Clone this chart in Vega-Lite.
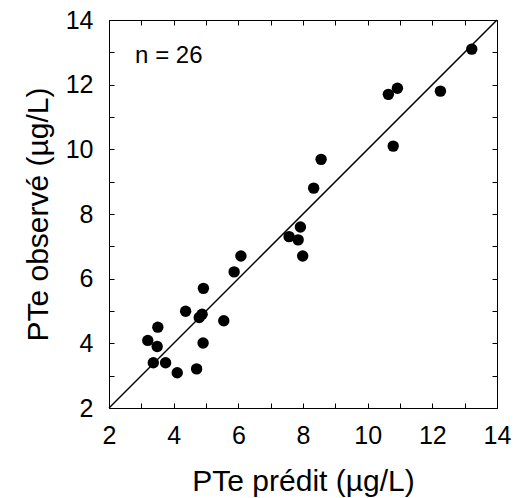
{
  "$schema": "https://vega.github.io/schema/vega-lite/v6.json",
  "width": 388,
  "height": 388,
  "autosize": {"type": "none"},
  "padding": {"left": 109, "top": 20, "right": 28, "bottom": 90},
  "background": "white",
  "config": {
    "view": {"stroke": "black", "strokeWidth": 1},
    "font": "Liberation Sans",
    "axis": {
      "grid": false,
      "domain": false,
      "ticks": true,
      "offset": -5,
      "tickColor": "black",
      "tickOpacity": 1,
      "tickSize": 5,
      "tickWidth": 1,
      "zindex": 1,
      "labelFlush": false,
      "labelColor": "black",
      "titleColor": "black",
      "labelFont": "Liberation Sans",
      "titleFont": "Liberation Sans",
      "labelFontSize": 25,
      "titleFontSize": 30,
      "titleFontWeight": "normal"
    }
  },
  "layer": [
    {
      "data": {"values": [{"x": 2, "y": 2}, {"x": 14, "y": 14}]},
      "mark": {"type": "line", "color": "black", "strokeWidth": 1.5},
      "encoding": {
        "x": {"field": "x", "type": "quantitative", "scale": {"domain": [2, 14], "nice": false},
          "axis": {"orient": "top", "values": [2,3,4,5,6,7,8,9,10,11,12,13,14], "labels": false, "title": null}},
        "y": {"field": "y", "type": "quantitative", "scale": {"domain": [2, 14], "nice": false},
          "axis": {"orient": "right", "values": [2,3,4,5,6,7,8,9,10,11,12,13,14], "labels": false, "title": null}}
      }
    },
    {
      "data": {"values": [
        {"x": 13.22, "y": 13.1},
        {"x": 10.64, "y": 11.7},
        {"x": 10.92, "y": 11.89},
        {"x": 12.25, "y": 11.8},
        {"x": 10.79, "y": 10.1},
        {"x": 8.56, "y": 9.69},
        {"x": 8.33, "y": 8.8},
        {"x": 7.92, "y": 7.6},
        {"x": 7.57, "y": 7.3},
        {"x": 7.85, "y": 7.2},
        {"x": 7.99, "y": 6.7},
        {"x": 6.08, "y": 6.7},
        {"x": 5.87, "y": 6.21},
        {"x": 4.92, "y": 5.7},
        {"x": 4.37, "y": 4.99},
        {"x": 4.79, "y": 4.8},
        {"x": 4.88, "y": 4.9},
        {"x": 5.55, "y": 4.7},
        {"x": 3.51, "y": 4.5},
        {"x": 3.2, "y": 4.09},
        {"x": 3.49, "y": 3.9},
        {"x": 4.91, "y": 4.01},
        {"x": 3.37, "y": 3.4},
        {"x": 3.75, "y": 3.4},
        {"x": 4.11, "y": 3.09},
        {"x": 4.71, "y": 3.21}
      ]},
      "mark": {"type": "circle", "color": "black", "opacity": 1, "size": 130},
      "encoding": {
        "x": {"field": "x", "type": "quantitative", "scale": {"domain": [2, 14], "nice": false},
          "axis": {"orient": "bottom", "values": [2,3,4,5,6,7,8,9,10,11,12,13,14],
            "labelExpr": "datum.value % 2 == 0 ? datum.label : ''", "labelPadding": 15,
            "title": "PTe prédit (µg/L)", "titlePadding": 18}},
        "y": {"field": "y", "type": "quantitative", "scale": {"domain": [2, 14], "nice": false},
          "axis": {"orient": "left", "values": [2,3,4,5,6,7,8,9,10,11,12,13,14],
            "labelExpr": "datum.value % 2 == 0 ? datum.label : ''", "labelPadding": 16,
            "title": "PTe observé (µg/L)", "titlePadding": 12}}
      }
    },
    {
      "data": {"values": [{"x": 3.85, "y": 12.9, "label": "n = 26"}]},
      "mark": {"type": "text", "color": "black", "fontSize": 24, "font": "Liberation Sans", "align": "center", "baseline": "middle"},
      "encoding": {
        "x": {"field": "x", "type": "quantitative", "axis": null},
        "y": {"field": "y", "type": "quantitative", "axis": null},
        "text": {"field": "label"}
      }
    }
  ],
  "resolve": {"axis": {"x": "independent", "y": "independent"}}
}
